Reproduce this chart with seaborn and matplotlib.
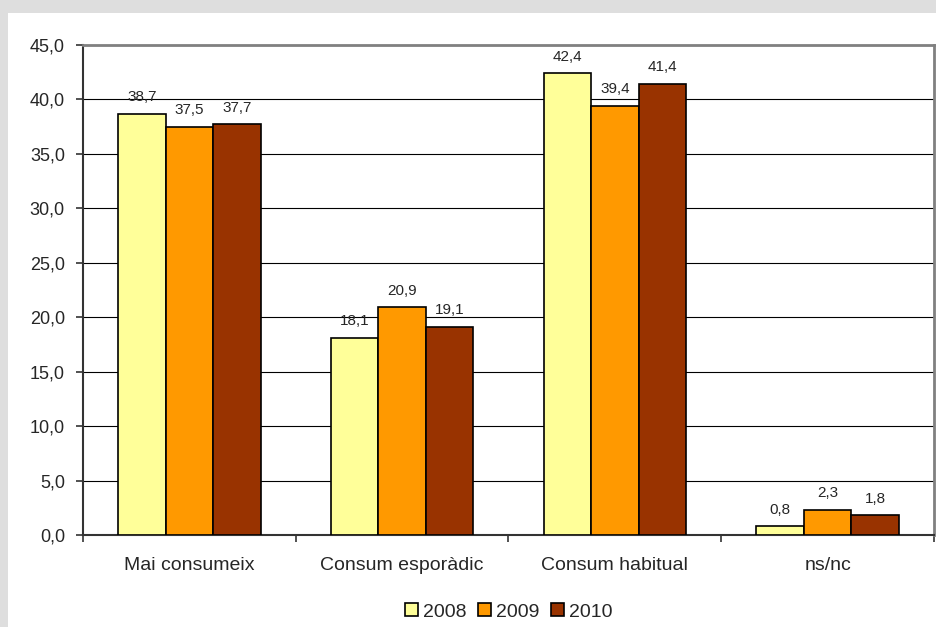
import matplotlib
matplotlib.use("Agg")
import matplotlib.pyplot as plt
from matplotlib.patches import Rectangle, Patch
import seaborn as sns
import pandas as pd

categories = ["Mai consumeix", "Consum esporàdic", "Consum habitual", "ns/nc"]
years = ["2008", "2009", "2010"]
values_2008 = [38.7, 18.1, 42.4, 0.8]
values_2009 = [37.5, 20.9, 39.4, 2.3]
values_2010 = [37.7, 19.1, 41.4, 1.8]
y_ticks = [0, 5, 10, 15, 20, 25, 30, 35, 40, 45]
colors = ["#FFFF99", "#FF9900", "#993300"]

df = pd.DataFrame({
    "cat": categories * 3,
    "year": [y for y in years for _ in categories],
    "val": values_2008 + values_2009 + values_2010,
})

sns.set_style("white")
plt.rcParams["font.family"] = ["Liberation Sans", "DejaVu Sans"]

fig = plt.figure(figsize=(9.37, 6.27), dpi=100)
fig.patch.set_facecolor("#DEDEDE")
# white chart area inside the grey frame
fig.add_artist(Rectangle((8 / 937, 0), 929 / 937, 614 / 627, transform=fig.transFigure,
                         facecolor="white", edgecolor="none", zorder=0))

ax = fig.add_axes([83 / 937, 1 - 535 / 627, (934 - 83) / 937, 490 / 627])
ax.set_facecolor("white")

sns.barplot(data=df, x="cat", y="val", hue="year", palette=colors, width=0.67,
            edgecolor="black", linewidth=1.2, saturation=1, ax=ax, zorder=3)

for cont in ax.containers:
    ax.bar_label(cont, fmt=lambda v: f"{v:.1f}".replace(".", ","), padding=7,
                 fontsize=11, zorder=4)

ax.set_ylim(0, 45)
ax.set_yticks(y_ticks)
ax.set_yticklabels([f"{t:.1f}".replace(".", ",") for t in y_ticks], fontsize=13)
ax.set_xlim(-0.5, 3.5)
ax.tick_params(axis="x", length=0, pad=16, labelsize=14)
ax.set_xticks([-0.5, 0.5, 1.5, 2.5, 3.5], minor=True)
ax.tick_params(axis="x", which="minor", length=5, direction="out", color="#333333", width=1.2, bottom=True)
ax.tick_params(axis="y", length=5, direction="out", color="#333333", width=1.2, pad=8, left=True)
ax.set_xlabel("")
ax.set_ylabel("")
ax.grid(axis="y", color="black", linewidth=0.8, zorder=0)
ax.set_axisbelow(True)

for side in ["left", "bottom"]:
    ax.spines[side].set_color("#333333")
    ax.spines[side].set_linewidth(1.5)
for side in ["top", "right"]:
    ax.spines[side].set_color("#808080")
    ax.spines[side].set_linewidth(2)

handles = [Patch(facecolor=c, edgecolor="black", linewidth=1.2) for c in colors]
ax.legend(handles, years, loc="center", bbox_to_anchor=(0.5, -0.157), ncol=3,
          frameon=False, fontsize=14, handlelength=0.67, handleheight=0.67,
          handletextpad=0.25, columnspacing=0.6)

fig.savefig("out.png", dpi=100, facecolor=fig.get_facecolor())
